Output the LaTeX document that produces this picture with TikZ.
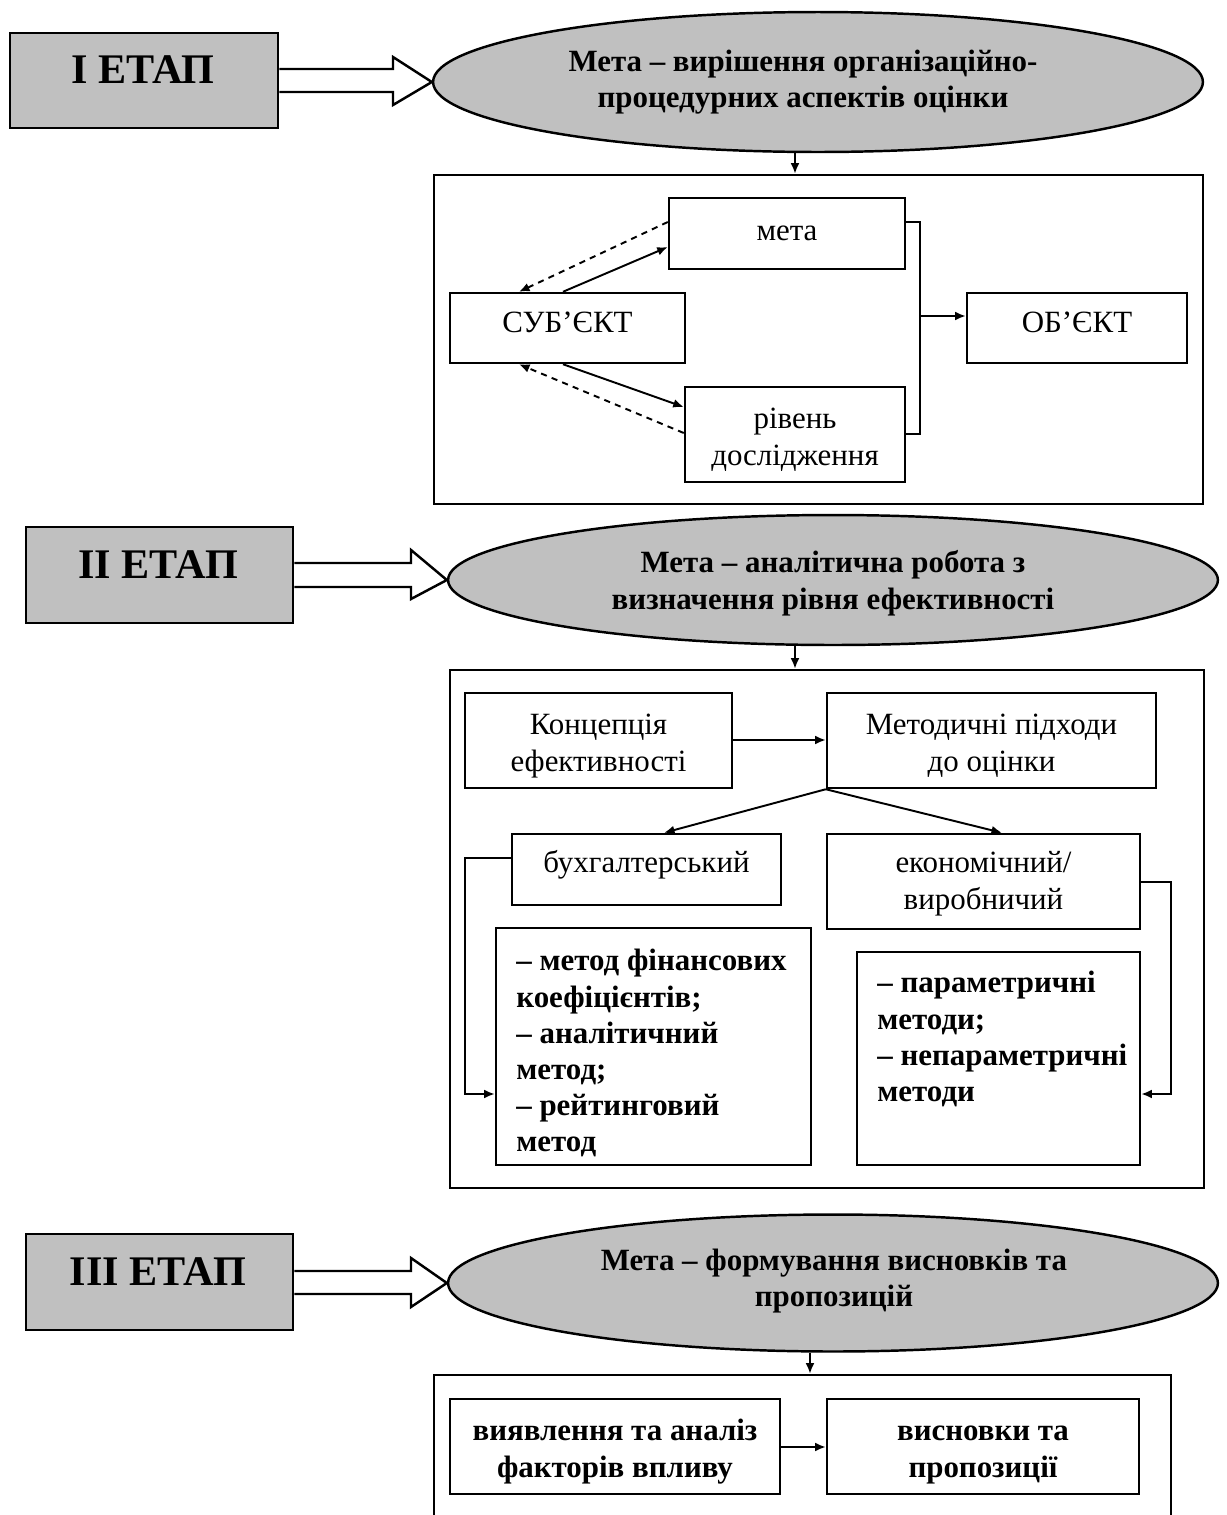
\documentclass[tikz,border=0pt]{standalone}
\usepackage{fontspec}
\setmainfont{Liberation Serif}
\usetikzlibrary{arrows.meta,fit,shapes.geometric}
\definecolor{fillgray}{HTML}{C0C0C0}
\begin{document}
\begin{tikzpicture}[x=0.02cm,y=-0.02cm,
  btxt/.style={font=\fontsize{17.6}{20.8}\selectfont\bfseries, align=center, inner sep=0pt},
  ltxt/.style={font=\fontsize{17.6}{20.6}\selectfont\bfseries, align=left, inner sep=0pt, anchor=north west},
  intxt/.style={font=\fontsize{17.6}{21}\selectfont, align=center, inner sep=0pt, anchor=north},
  bintxt/.style={intxt, font=\fontsize{17.6}{21}\selectfont\bfseries},
  box/.style={draw=black, line width=1.4pt, inner sep=0pt},
  frame/.style={draw=black, line width=1.4pt, inner sep=0pt},
  stagebox/.style={draw=black, fill=fillgray, line width=1.6pt, inner sep=0pt},
  stagetxt/.style={font=\fontsize{24}{28}\selectfont\bfseries, inner sep=0pt},
  goal/.style={ellipse, draw=black, fill=fillgray, line width=1.4pt, inner sep=0pt},
  conn/.style={line width=1.1pt, -{Latex[length=6pt,width=5pt]}},
  dconn/.style={conn, dash pattern=on 3.5pt off 3pt},
  plain/.style={line width=1.1pt},
  blockarrow/.style={draw=black, fill=white, line width=1.4pt, line join=miter}
]
\useasboundingbox (0,0) rectangle (1227,1515);

% ---------------- Stage I ----------------
\node[stagebox, fit={(10,33) (278,128)}] (stI) {};
\node[stagetxt] (stIt) at (143,70) {І ЕТАП};
\node[goal, minimum width=15.4cm, minimum height=2.8cm] (gI) at (818,82) {};
\node[btxt] (gIt) at (803,82) {Мета – вирішення організаційно-\\процедурних аспектів оцінки};
\draw[blockarrow] (stI.east |- 0,69) -- (393,69) -- (393,57) -- (gI.west) -- (393,105) -- (393,92) -- (stI.east |- 0,92);

\node[frame, fit={(434,175) (1203,504)}] (fI) {};
\draw[conn] (gI.south -| 795,0) -- (fI.north -| 795,0);

\node[box, fit={(669,198) (905,269)}] (meta) {};
\node[box, fit={(450,293) (685,363)}] (subj) {};
\node[box, fit={(967,293) (1187,363)}] (obj) {};
\node[box, fit={(685,387) (905,482)}] (riv) {};
\node[intxt] (metaT) at ([yshift=-9.8pt]meta.north) {\strut мета};
\node[intxt] (subjT) at ([yshift=-8.1pt]subj.north) {\strut СУБ'ЄКТ};
\node[intxt] (objT) at ([yshift=-8.1pt]obj.north) {\strut ОБ'ЄКТ};
\node[intxt] (rivT) at ([yshift=-9.2pt]riv.north) {\strut рівень\\дослідження};

\draw[dconn] (meta.west |- 0,222) -- (subj.north -| 519,0);
\draw[conn] (subj.north -| 563,0) -- (meta.west |- 0,247);
\draw[conn] (subj.south -| 563,0) -- (riv.west |- 0,407);
\draw[dconn] (riv.west |- 0,433) -- (subj.south -| 519,0);
\draw[plain] (meta.east |- 0,222) -| (920,434) -- (riv.east |- 0,434);
\coordinate (brI) at (920,316);
\draw[conn] (brI) -- (obj.west |- 0,316);

% ---------------- Stage II ----------------
\node[stagebox, fit={(26,527) (293,623)}] (stII) {};
\node[stagetxt] (stIIt) at (158,565) {ІІ ЕТАП};
\node[goal, minimum width=15.4cm, minimum height=2.6cm] (gII) at (833,580) {};
\node[btxt] (gIIt) at (833,583) {Мета – аналітична робота з\\визначення рівня ефективності};
\draw[blockarrow] (stII.east |- 0,563) -- (411,563) -- (411,550) -- (gII.west) -- (411,599) -- (411,587) -- (stII.east |- 0,587);

\node[frame, fit={(450,670) (1204,1188)}] (fII) {};
\draw[conn] (gII.south -| 795,0) -- (fII.north -| 795,0);

\node[box, fit={(465,693) (732,788)}] (conc) {};
\node[box, fit={(827,693) (1156,788)}] (meth) {};
\node[box, fit={(512,834) (781,905)}] (buh) {};
\node[box, fit={(827,834) (1140,929)}] (econ) {};
\node[intxt] (concT) at ([yshift=-9.2pt]conc.north) {\strut Концепція\\ефективності};
\node[intxt] (methT) at ([yshift=-9.2pt]meth.north) {\strut Методичні підходи\\до оцінки};
\node[intxt] (buhT) at ([yshift=-7.5pt]buh.north) {\strut бухгалтерський};
\node[intxt] (econT) at ([yshift=-7.5pt]econ.north) {\strut економічний/\\виробничий};
\node[frame, fit={(496,928) (811,1165)}] (listL) {};
\node[frame, fit={(857,952) (1140,1165)}] (listR) {};
\node[ltxt] (listLt) at (516,949) {– метод фінансових\\коефіцієнтів;\\– аналітичний\\метод;\\– рейтинговий\\метод};
\node[ltxt] (listRt) at (877,971) {– параметричні\\методи;\\– непараметричні\\методи};

\draw[conn] (conc.east |- 0,740) -- (meth.west |- 0,740);
\draw[conn] (meth.south west) -- (buh.north -| 664,0);
\draw[conn] (meth.south west) -- (econ.north -| 1002,0);
\draw[conn] (buh.west |- 0,858) -| (465,1094) -- (listL.west |- 0,1094);
\draw[conn] (econ.east |- 0,882) -| (1171,1094) -- (listR.east |- 0,1094);

% ---------------- Stage III ----------------
\node[stagebox, fit={(26,1234) (293,1330)}] (stIII) {};
\node[stagetxt] (stIIIt) at (158,1272) {ІІІ ЕТАП};
\node[goal, minimum width=15.4cm, minimum height=2.74cm] (gIII) at (833,1283) {};
\node[btxt] (gIIIt) at (834,1281) {Мета – формування висновків та\\пропозицій};
\draw[blockarrow] (stIII.east |- 0,1271) -- (411,1271) -- (411,1258) -- (gIII.west) -- (411,1307) -- (411,1294) -- (stIII.east |- 0,1294);

\node[frame, fit={(434,1375) (1171,1600)}] (fIII) {};
\draw[conn] (gIII.south -| 810,0) -- (fIII.north -| 810,0);

\node[box, fit={(450,1399) (780,1494)}] (find) {};
\node[box, fit={(827,1399) (1139,1494)}] (concl) {};
\node[bintxt] (findT) at ([yshift=-9.2pt]find.north) {\strut виявлення та аналіз\\факторів впливу};
\node[bintxt] (conclT) at ([yshift=-9.2pt]concl.north) {\strut висновки та\\пропозиції};
\draw[conn] (find.east |- 0,1447) -- (concl.west |- 0,1447);
\end{tikzpicture}
\end{document}
